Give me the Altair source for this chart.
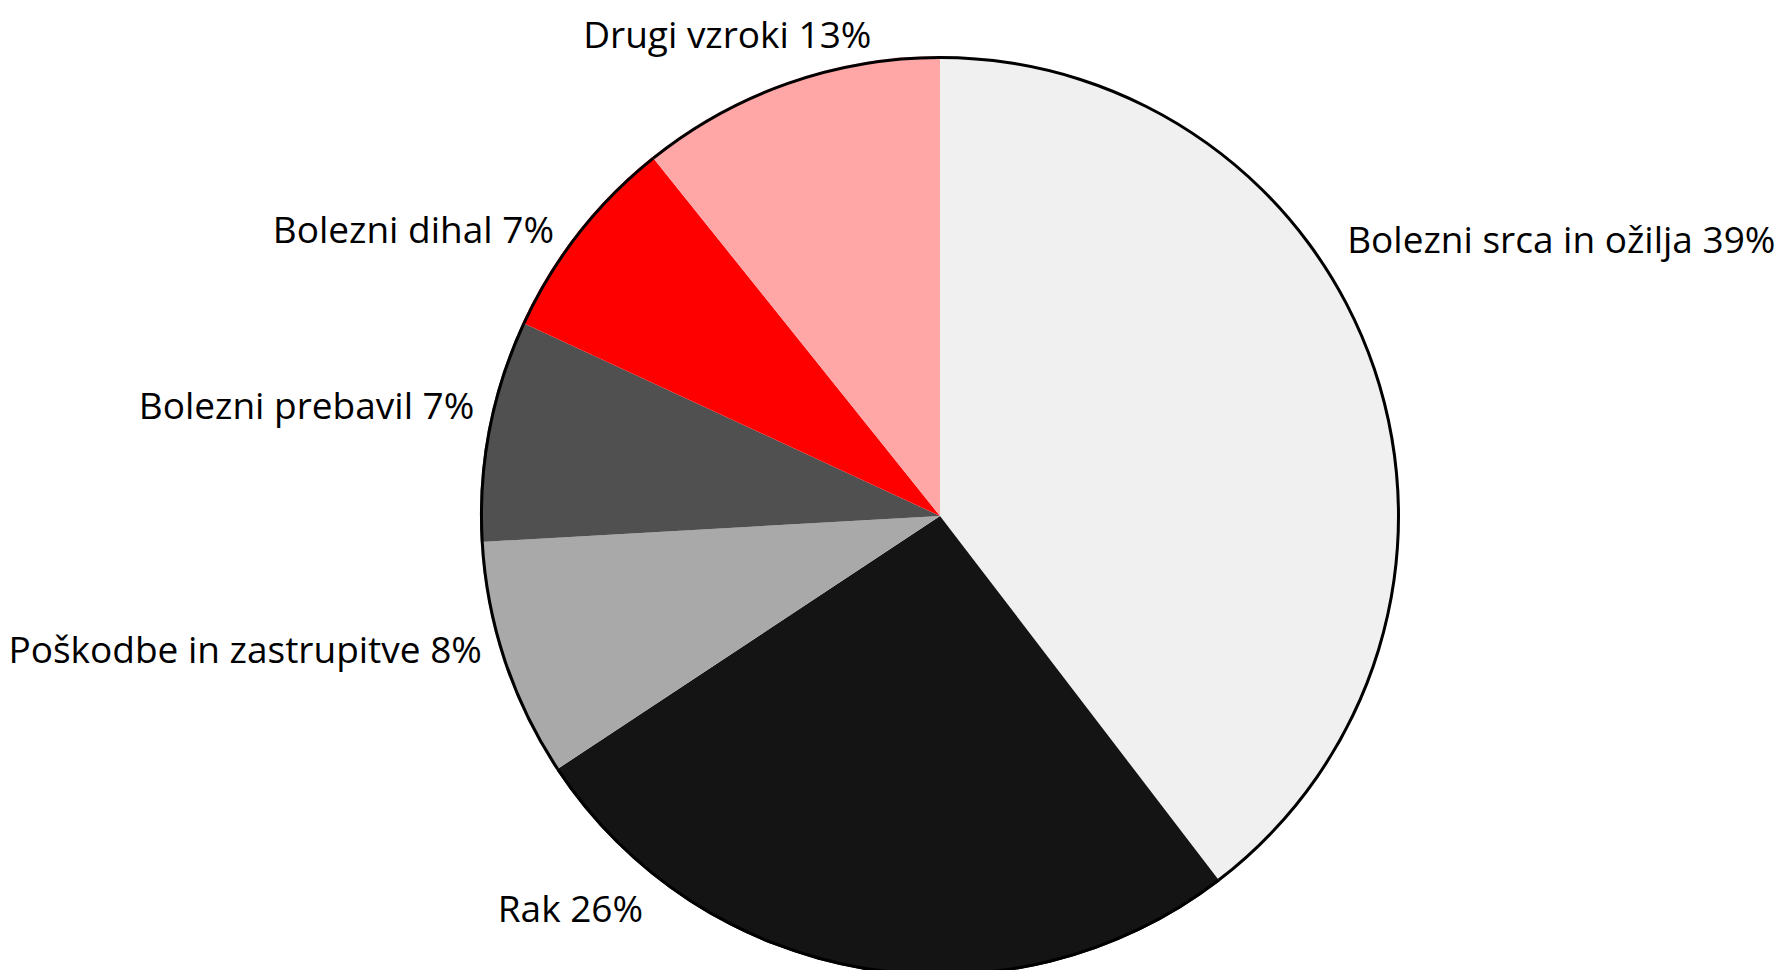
import altair as alt
import pandas as pd

categories = ["Bolezni srca in ožilja", "Rak", "Poškodbe in zastrupitve",
              "Bolezni prebavil", "Bolezni dihal", "Drugi vzroki"]
shares = [39.6, 26.1, 8.4, 7.8, 7.35, 10.75]          # slice sizes
labels = ["Bolezni srca in ožilja 39%", "Rak 26%", "Poškodbe in zastrupitve 8%",
          "Bolezni prebavil 7%", "Bolezni dihal 7%", "Drugi vzroki 13%"]
colors = ["#f0f0f0", "#141414", "#a9a9a9", "#505050", "#ff0000", "#ffa6a6"]

df = pd.DataFrame({"cat": categories, "value": shares, "label": labels,
                   "idx": list(range(len(categories)))})

R = 460
FONT = "Open Sans"
FS = 37

pie = alt.Chart(df).mark_arc(outerRadius=R, strokeWidth=0).encode(
    theta=alt.Theta("value:Q", stack=True),
    order=alt.Order("idx:Q"),
    color=alt.Color("cat:N", scale=alt.Scale(domain=categories, range=colors), legend=None),
)

# thin black ring around the pie
outline = alt.Chart(df).mark_arc(innerRadius=R - 3, outerRadius=R, color="black", strokeWidth=0).encode(
    theta=alt.Theta("value:Q", stack=True),
    order=alt.Order("idx:Q"),
)

# label layout: (align, dx, dy) relative to the slice mid-angle at radius 470
layout = {
    "Bolezni srca in ožilja": ("left", -38, -112),
    "Rak": ("right", -219, -57),
    "Poškodbe in zastrupitve": ("right", -12, -1),
    "Bolezni prebavil": ("right", -4, -9),
    "Bolezni dihal": ("right", -16, 17),
    "Drugi vzroki": ("center", -57, -25),
}

text_layers = []
for c in categories:
    al, dx, dy = layout[c]
    t = alt.Chart(df).transform_window(
        cum="sum(value)", sort=[alt.SortField("idx")]
    ).transform_calculate(
        mid="datum.cum - datum.value / 2"
    ).transform_filter(
        alt.datum.cat == c
    ).mark_text(
        radius=470, align=al, baseline="alphabetic", dx=dx, dy=dy,
        font=FONT, fontSize=FS, color="#000000"
    ).encode(
        theta=alt.Theta("mid:Q", scale=alt.Scale(domain=[0, 100])),
        text="label:N",
    )
    text_layers.append(t)

chart = alt.layer(pie, outline, *text_layers).resolve_scale(theta="independent").properties(
    width=1676, height=908,
    padding={"left": 94, "top": 54, "right": 0, "bottom": 0},
    autosize=alt.AutoSizeParams(type="none"),
).configure_view(stroke=None).configure(background="white")

chart.save("out.html", embed_options={"renderer": "svg", "actions": False})
